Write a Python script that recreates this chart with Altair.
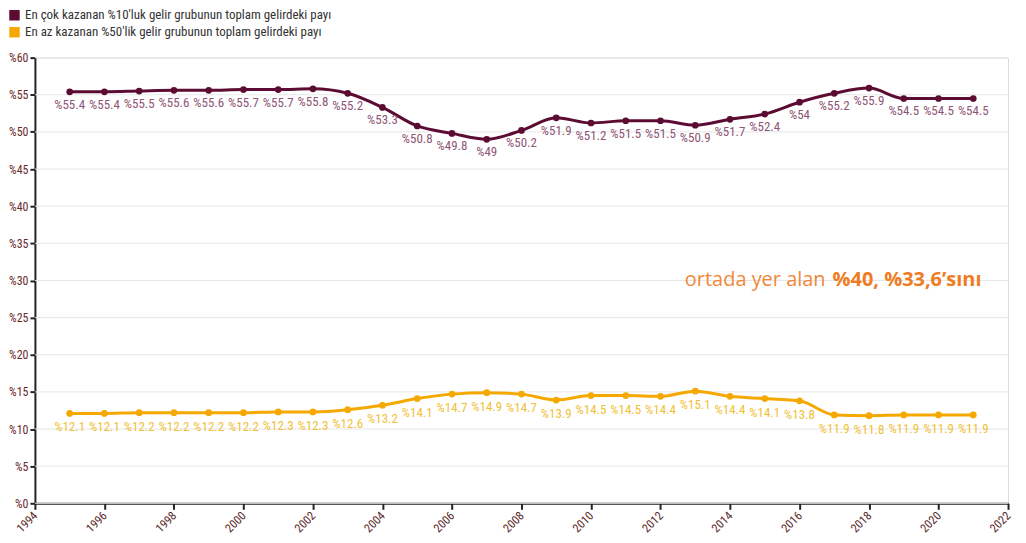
import altair as alt
import pandas as pd

years = list(range(1995, 2022))
top10 = [55.4, 55.4, 55.5, 55.6, 55.6, 55.7, 55.7, 55.8, 55.2, 53.3, 50.8, 49.8, 49, 50.2,
         51.9, 51.2, 51.5, 51.5, 50.9, 51.7, 52.4, 54, 55.2, 55.9, 54.5, 54.5, 54.5]
bottom50 = [12.1, 12.1, 12.2, 12.2, 12.2, 12.2, 12.3, 12.3, 12.6, 13.2, 14.1, 14.7, 14.9, 14.7,
            13.9, 14.5, 14.5, 14.4, 15.1, 14.4, 14.1, 13.8, 11.9, 11.8, 11.9, 11.9, 11.9]
series_names = ["En çok kazanan %10'luk gelir grubunun toplam gelirdeki payı",
                "En az kazanan %50'lik gelir grubunun toplam gelirdeki payı"]
series_colors = ["#5c0b32", "#f5a800"]
label_colors = ["#8e5574", "#f0bf36"]
x_ticks = list(range(1994, 2023, 2))
y_ticks = list(range(0, 61, 5))

note_normal = "ortada yer alan"
note_bold = "%40, %33,6’sını"
note_year = [2016.75]
note_value = [30]

FONT = "Roboto Condensed, DejaVu Sans Condensed, Roboto, sans-serif"

rows = []
for y, v in zip(years, top10):
    rows.append({"year": y, "value": v, "series": series_names[0]})
for y, v in zip(years, bottom50):
    rows.append({"year": y, "value": v, "series": series_names[1]})
df = pd.DataFrame(rows)

note_df = pd.DataFrame({"year": note_year, "value": note_value,
                        "t1": [note_normal], "t2": [note_bold]})
grid_df = pd.DataFrame({"value": y_ticks})

x_scale = alt.Scale(domain=[1994, 2022], nice=False, zero=False)
y_scale = alt.Scale(domain=[0, 60], nice=False)

x_enc = alt.X("year:Q", scale=x_scale,
              axis=alt.Axis(values=x_ticks, format="d", title=None, labelAngle=315,
                            labelAlign="right", labelBaseline="middle", labelColor="#5a2a2a",
                            labelFont=FONT, labelFontSize=12, labelOverlap=False,
                            domainColor="#222222", domainWidth=2, tickColor="#222222",
                            tickWidth=2, tickSize=6, grid=False, labelPadding=4))
y_enc = alt.Y("value:Q", scale=y_scale,
              axis=alt.Axis(values=y_ticks, format="$d", title=None,
                            labelColor="#6b2a2a", labelFont=FONT, labelOverlap=False,
                            labelFontSize=12, domainColor="#222222", domainWidth=2,
                            tickColor="#222222", tickWidth=2, tickSize=5, labelPadding=2,
                            grid=False))

color_scale = alt.Scale(domain=series_names, range=series_colors)
color_enc = alt.Color("series:N", scale=color_scale,
                      legend=alt.Legend(title=None, orient="none", legendX=-27, legendY=-49,
                                        symbolType="square", symbolSize=110,
                                        symbolStrokeWidth=0, symbolOpacity=1,
                                        labelFont=FONT, labelFontSize=13, labelLimit=0,
                                        labelColor="#333333", rowPadding=3, labelOffset=4))

gridlines = alt.Chart(grid_df).mark_rule(color="#e6e6e6", strokeWidth=1).encode(y=y_enc)

base = alt.Chart(df)
lines = base.mark_line(interpolate="monotone", strokeWidth=3).encode(x=x_enc, y=y_enc, color=color_enc)
points = base.mark_circle(size=45, opacity=1).encode(x=x_enc, y=y_enc, color=color_enc)

labels_top = base.transform_filter(alt.datum.series == series_names[0]).transform_calculate(
    lab="'%' + datum.value").mark_text(dy=13, font=FONT, fontSize=13,
                                       color=label_colors[0]).encode(x=x_enc, y=y_enc, text="lab:N")
labels_bot = base.transform_filter(alt.datum.series == series_names[1]).transform_calculate(
    lab="'%' + datum.value").mark_text(dy=14, font=FONT, fontSize=13,
                                       color=label_colors[1]).encode(x=x_enc, y=y_enc, text="lab:N")

note1 = alt.Chart(note_df).mark_text(align="right", font="Open Sans", fontSize=20,
                                     color="#f0883a").encode(x=x_enc, y=y_enc, text="t1:N")
note2 = alt.Chart(note_df).mark_text(align="left", font="Open Sans", fontSize=20, fontWeight="bold",
                                     color="#ef7b22", dx=7).encode(x=x_enc, y=y_enc, text="t2:N")

chart = alt.layer(gridlines, lines, points, labels_top, labels_bot, note1, note2).properties(
    width=976, height=447,
    autosize=alt.AutoSizeParams(type="none"),
    padding={"left": 27, "top": 49, "right": 10, "bottom": 30},
).configure_view(stroke=None).configure(
    background="white",
    locale={"number": {"decimal": ".", "thousands": ",", "grouping": [3], "currency": ["%", ""]}},
)

chart.save("out.html", embed_options={"renderer": "svg", "actions": False})
